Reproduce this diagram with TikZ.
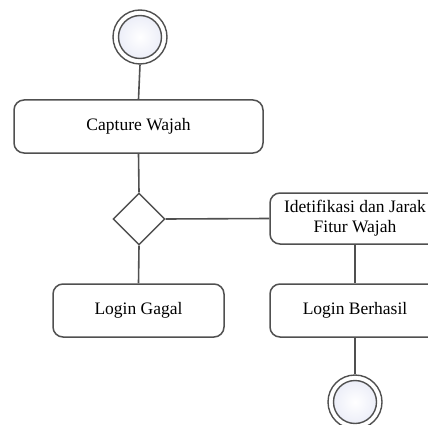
\documentclass[tikz,border=0pt]{standalone}
\usepackage{fontspec}
\setmainfont{Liberation Serif}
\usetikzlibrary{shapes.geometric}
\definecolor{edge}{HTML}{505050}
\definecolor{inner}{HTML}{ECEEF8}
\tikzset{
  act/.style={draw=edge, line width=1.5pt, rounded corners=10pt, fill=white,
    minimum height=53pt, align=center, font=\fontsize{17.5}{20}\selectfont},
  decision/.style={draw=edge, line width=1.4pt, diamond, fill=white,
    minimum width=52pt, minimum height=52pt, inner sep=0pt},
  flow/.style={draw=edge, line width=1.6pt},
  ring/.style={draw=edge, line width=1.4pt, circle, fill=white, minimum size=54pt, inner sep=0pt},
  core/.style={draw=edge, line width=1.4pt, circle, inner color=white, outer color=inner,
    minimum size=43pt, inner sep=0pt}
}
\begin{document}
\begin{tikzpicture}[x=1pt, y=-1pt]
  \useasboundingbox (0,0) rectangle (428,425);
  \clip (0,0) rectangle (428,425);

  % start node
  \node[ring] (start) at (140,37) {};
  \node[core] (startc) at (140,37) {};

  % actions
  \node[act, minimum width=249pt] (capture) at (138.5,126.5) {Capture Wajah};
  \node[decision] (dec) at (139,219) {};
  \node[act, minimum width=170pt, minimum height=51pt] (ident) at (355,218.5)
    {Idetifikasi dan Jarak\\Fitur Wajah};
  \node[act, minimum width=171pt] (gagal) at (138.5,310.5) {Login Gagal};
  \node[act, minimum width=170pt] (berhasil) at (355,310.5) {Login Berhasil};

  % end node
  \node[ring] (end) at (355,402) {};
  \node[core] (endc) at (355,402) {};

  % flows
  \draw[flow] (start.south) -- (capture.north);
  \draw[flow] (capture.south) -- (dec.north);
  \draw[flow] (dec.east) -- (ident.west);
  \draw[flow] (dec.south) -- (gagal.north);
  \draw[flow] (ident.south) -- (berhasil.north);
  \draw[flow] (berhasil.south) -- (end.north);
\end{tikzpicture}
\end{document}
